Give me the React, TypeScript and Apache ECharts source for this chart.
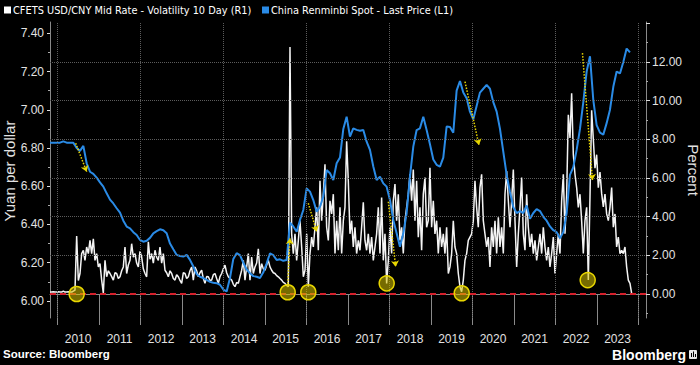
import React, { useEffect, useRef } from 'react';
import * as echarts from 'echarts';

const WHITE_NAME = 'CFETS USD/CNY Mid Rate - Volatility 10 Day (R1)';
const BLUE_NAME = 'China Renminbi Spot - Last Price (L1)';

// x axis in decimal years
const X_MIN = 2009.824;
const X_MAX = 2024.186;
const YEAR_EDGES = [2010, 2011, 2012, 2013, 2014, 2015, 2016, 2017, 2018, 2019, 2020, 2021, 2022, 2023, 2024];
const YEAR_LABELS = [2010, 2011, 2012, 2013, 2014, 2015, 2016, 2017, 2018, 2019, 2020, 2021, 2022, 2023];
const GRID_YEARS = [2010, 2012, 2014, 2016, 2018, 2020, 2022, 2024];

const LEFT_MIN = 5.911;
const LEFT_MAX = 7.459;
const LEFT_TICKS = [6.0, 6.2, 6.4, 6.6, 6.8, 7.0, 7.2, 7.4];
const LEFT_MINOR = [6.1, 6.3, 6.5, 6.7, 6.9, 7.1, 7.3];
const RIGHT_MIN = -1.24;
const RIGHT_MAX = 14.06;
const RIGHT_TICKS = [0, 2, 4, 6, 8, 10, 12, 14];
const RIGHT_LABELS = [0, 2, 4, 6, 8, 10, 12];
const RIGHT_MINOR = [-1, 1, 3, 5, 7, 9, 11, 13];
const GRID_PCT = [2, 4, 6, 8, 10, 12];

// Volatility (percent), roughly every two weeks
const VOL_STEP = 0.04016;
const VOL_STARTS = [2009.824, 2013.318, 2016.932, 2020.547];
const vol2009 = [0.1, 0.1, 0.12, 0.1, 0.1, 0.12, 0.1, 0.1, 0.15, 0.1, 0.1, 0.12, 0.1, 0.1, 0.15, 0.2, 3.0, 0.7, 1.06, 2.09, 2.26, 1.74, 2.43, 2.09, 2.77, 2.09, 2.85, 1.74, 2.09, 1.4, 1.57, 0.72, 0.05, 1.74, 0.89, 1.2, 1.06, 0.9, 0.72, 1.1, 1.06, 0.8, 0.89, 1.2, 1.4, 2.43, 1.06, 1.5, 1.74, 2.6, 1.9, 2.09, 1.6, 1.4, 2.2, 1.91, 1.3, 1.06, 0.89, 2.7, 1.8, 2.09, 1.6, 2.26, 1.9, 1.74, 2.43, 1.6, 2.09, 1.23, 1.1, 0.89, 1.2, 1.06, 0.8, 0.72, 1.0, 0.89, 0.7, 0.55, 1.1, 1.06, 0.8, 0.89, 1.2, 1.4, 0.72];
const vol2013 = [1.4, 1.2, 0.89, 1.1, 1.23, 0.8, 0.55, 0.9, 0.89, 0.7, 0.72, 1.0, 1.06, 0.8, 0.55, 0.9, 1.06, 1.3, 1.49, 1.1, 0.89, 0.8, 0.72, 0.5, 0.38, 0.6, 0.55, 0.9, 1.23, 1.74, 0.72, 1.4, 2.09, 0.72, 1.91, 1.06, 1.4, 1.6, 2.34, 1.06, 1.57, 1.3, 1.23, 1.5, 1.74, 1.4, 1.23, 1.1, 1.06, 0.95, 0.89, 0.8, 0.72, 0.6, 0.55, 0.45, 0.38, 12.77, 3.11, 2.09, 3.11, 1.74, 2.77, 3.79, 2.43, 0.89, 1.23, 3.11, 0.38, 2.09, 2.94, 2.43, 3.45, 4.48, 2.26, 5.85, 3.79, 5.16, 6.7, 3.45, 2.77, 4.82, 4.14, 5.16, 2.09, 3.79, 2.26, 4.48, 2.09, 3.79];
const vol2017 = [4.48, 7.9, 5.85, 3.11, 3.79, 2.43, 3.45, 2.09, 2.77, 2.26, 3.45, 4.74, 2.77, 2.26, 3.11, 2.09, 2.94, 1.74, 2.43, 3.11, 4.48, 2.09, 4.99, 1.74, 3.11, 0.55, 1.74, 3.45, 2.09, 4.82, 5.68, 3.79, 5.16, 2.77, 3.45, 2.09, 3.79, 4.48, 5.16, 6.19, 4.82, 6.44, 3.79, 5.85, 2.94, 4.48, 2.26, 5.16, 6.02, 3.45, 3.79, 6.53, 3.45, 4.82, 3.11, 3.79, 2.09, 3.45, 2.43, 3.11, 2.09, 3.45, 1.06, 1.4, 2.09, 3.79, 2.43, 2.09, 1.06, 0.38, 0.12, 0.72, 1.74, 2.09, 2.77, 2.94, 3.11, 3.79, 5.85, 4.48, 3.45, 5.5, 6.19, 3.79, 3.11, 2.43, 2.94, 1.4, 3.45, 2.43];
const vol2020 = [3.79, 2.09, 3.97, 2.43, 3.45, 2.09, 5.16, 6.36, 4.82, 3.45, 4.82, 6.44, 3.79, 1.4, 3.11, 4.48, 6.02, 3.11, 2.26, 5.16, 3.45, 2.43, 3.11, 2.09, 2.77, 1.74, 2.43, 3.11, 2.09, 3.45, 2.43, 1.74, 2.43, 1.4, 2.09, 2.94, 1.06, 2.09, 3.11, 2.09, 4.82, 6.19, 3.11, 5.16, 9.26, 8.07, 10.38, 7.21, 6.19, 5.5, 4.48, 5.16, 3.79, 2.09, 3.79, 4.48, 0.72, 5.0, 9.5, 8.0, 6.5, 7.2, 5.5, 6.3, 5.2, 4.5, 5.16, 4.14, 3.79, 4.48, 5.5, 3.45, 4.14, 2.43, 2.94, 2.09, 2.26, 2.09, 2.43, 1.4, 0.72, 0.55, 0.03];

// Spot (yuan per dollar), roughly monthly
const SPOT_STEP = 0.08032;
const SPOT_STARTS = [2009.824, 2013.358, 2016.972, 2020.587];
const spot2009 = [6.828, 6.828, 6.828, 6.828, 6.835, 6.828, 6.828, 6.828, 6.8, 6.785, 6.811, 6.72, 6.676, 6.665, 6.645, 6.62, 6.598, 6.563, 6.53, 6.51, 6.485, 6.462, 6.42, 6.389, 6.38, 6.36, 6.345, 6.319, 6.31, 6.315, 6.33, 6.354, 6.365, 6.375, 6.37, 6.354, 6.3, 6.27, 6.241, 6.235, 6.232, 6.241, 6.215, 6.18];
const spot2013 = [6.14, 6.127, 6.12, 6.11, 6.1, 6.095, 6.093, 6.085, 6.06, 6.05, 6.12, 6.22, 6.25, 6.24, 6.2, 6.165, 6.145, 6.13, 6.127, 6.12, 6.15, 6.197, 6.249, 6.24, 6.214, 6.218, 6.21, 6.214, 6.41, 6.39, 6.362, 6.424, 6.476, 6.589, 6.572, 6.528, 6.467, 6.493, 6.546, 6.685, 6.668, 6.633, 6.72, 6.75, 6.9];
const spot2017 = [6.964, 6.86, 6.903, 6.895, 6.89, 6.894, 6.833, 6.79, 6.703, 6.633, 6.65, 6.615, 6.598, 6.528, 6.424, 6.354, 6.284, 6.354, 6.459, 6.65, 6.807, 6.894, 6.903, 6.964, 6.894, 6.82, 6.74, 6.712, 6.703, 6.75, 6.912, 6.91, 6.88, 7.1, 7.15, 7.09, 7.06, 6.99, 6.95, 7.02, 7.09, 7.11, 7.13, 7.11, 7.04];
const spot2020 = [6.99, 6.9, 6.78, 6.66, 6.57, 6.49, 6.46, 6.47, 6.46, 6.5, 6.43, 6.46, 6.48, 6.47, 6.44, 6.42, 6.39, 6.37, 6.36, 6.328, 6.36, 6.46, 6.66, 6.7, 6.79, 6.9, 7.04, 7.2, 7.28, 7.05, 6.92, 6.88, 6.87, 6.93, 7.0, 7.12, 7.2, 7.19, 7.25, 7.32, 7.3];

// Highlighted volatility lows (yellow circles)
const CIRCLE_DATES = [2010.467, 2015.552, 2016.048, 2017.937, 2019.745, 2022.781];
const CIRCLE_VALUES = [0.0, 0.09, 0.09, 0.55, 0.04, 0.72];

// Dotted arrows, in (year, yuan) units: [fromX, fromY, toX, toY]
const ARROWS = [
  [2010.443, 6.825, 2010.708, 6.676],
  [2015.552, 6.075, 2015.607, 6.328],
  [2016.048, 6.511, 2016.251, 6.362],
  [2017.976, 6.519, 2018.154, 6.179],
  [2019.824, 7.147, 2020.161, 6.816],
  [2022.655, 7.296, 2022.896, 6.633],
];

function build(starts: number[], step: number, chunks: number[][]) {
  const out: number[][] = [];
  chunks.forEach((c, k) => c.forEach((v, i) => out.push([starts[k] + i * step, v])));
  return out;
}

const FONT = '"Liberation Sans", Arial, sans-serif';
const LEGEND_FONT = '"DejaVu Sans", sans-serif';
const AXIS_COLOR = '#8a8a8a';
const LABEL_COLOR = '#e2e2e2';

export default function App() {
  const ref = useRef<HTMLDivElement>(null);
  useEffect(() => {
    const chart = echarts.init(ref.current!, null, { renderer: 'svg' });
    const volData = build(VOL_STARTS, VOL_STEP, [vol2009, vol2013, vol2017, vol2020]);
    const spotData = build(SPOT_STARTS, SPOT_STEP, [spot2009, spot2013, spot2017, spot2020]);
    const gridLine = { color: '#5c5c5c', type: 'dotted', width: 1 };
    const option: any = {
      animation: false,
      backgroundColor: '#000',
      textStyle: { fontFamily: FONT },
      grid: { left: 50, right: 54, top: 22, bottom: 47 },
      xAxis: {
        type: 'value',
        min: X_MIN,
        max: X_MAX,
        splitLine: { show: false },
        axisLine: { show: true, lineStyle: { color: AXIS_COLOR } },
        axisTick: { show: true, customValues: YEAR_EDGES, length: 31, lineStyle: { color: AXIS_COLOR } },
        axisLabel: {
          customValues: YEAR_LABELS.map((y) => y + 0.5),
          formatter: (v: number) => String(Math.floor(v)),
          color: LABEL_COLOR,
          fontSize: 12,
          margin: 15,
        },
      },
      yAxis: [
        {
          type: 'value', position: 'left', min: LEFT_MIN, max: LEFT_MAX,
          splitLine: { show: false },
          axisLine: { show: true, lineStyle: { color: AXIS_COLOR } },
          axisTick: { show: true, customValues: LEFT_TICKS, length: 3, lineStyle: { color: '#ddd' } },
          axisLabel: { customValues: LEFT_TICKS, formatter: (v: number) => v.toFixed(2), color: LABEL_COLOR, fontSize: 12, margin: 6 },
        },
        {
          type: 'value', position: 'right', min: RIGHT_MIN, max: RIGHT_MAX,
          splitLine: { show: false },
          axisLine: { show: true, lineStyle: { color: AXIS_COLOR } },
          axisTick: { show: true, customValues: RIGHT_TICKS, length: 4, lineStyle: { color: '#ddd' } },
          axisLabel: { customValues: RIGHT_LABELS, formatter: (v: number) => v.toFixed(2), color: LABEL_COLOR, fontSize: 12, margin: 6 },
        },
        {
          type: 'value', position: 'left', min: LEFT_MIN, max: LEFT_MAX,
          splitLine: { show: false }, axisLine: { show: false }, axisLabel: { show: false },
          axisTick: { show: true, customValues: LEFT_MINOR, length: 2, lineStyle: { color: '#aaa' } },
        },
        {
          type: 'value', position: 'right', min: RIGHT_MIN, max: RIGHT_MAX,
          splitLine: { show: false }, axisLine: { show: false }, axisLabel: { show: false },
          axisTick: { show: true, customValues: RIGHT_MINOR, length: 2, lineStyle: { color: '#aaa' } },
        },
      ],
      series: [
        {
          type: 'line', yAxisIndex: 1, data: [], z: 1, silent: true,
          markLine: {
            silent: true, symbol: ['none', 'none'], label: { show: false },
            lineStyle: gridLine,
            data: [...GRID_PCT.map((v) => ({ yAxis: v })), ...GRID_YEARS.map((v) => ({ xAxis: v }))],
          },
        },
        {
          name: WHITE_NAME, type: 'line', yAxisIndex: 1, data: volData, z: 3,
          showSymbol: false, symbol: 'none',
          lineStyle: { color: '#f4f4f4', width: 1.5 }, itemStyle: { color: '#fff' },
        },
        {
          name: BLUE_NAME, type: 'line', yAxisIndex: 0, data: spotData, z: 4,
          showSymbol: false, symbol: 'none',
          lineStyle: { color: '#2a8be6', width: 2 }, itemStyle: { color: '#2a8be6' },
        },
        {
          type: 'line', yAxisIndex: 1, data: [], z: 5, silent: true,
          markLine: {
            silent: true, symbol: ['none', 'none'], label: { show: false },
            lineStyle: { color: '#d5202c', type: [6, 4], width: 2 },
            data: [{ yAxis: 0 }],
          },
        },
        {
          type: 'scatter', yAxisIndex: 1, z: 6, silent: true,
          data: CIRCLE_DATES.map((d, i) => [d, CIRCLE_VALUES[i]]),
          symbolSize: 15,
          itemStyle: { color: 'rgba(215,195,0,0.55)', borderColor: '#e8d600', borderWidth: 1.5, opacity: 1 },
        },
        {
          type: 'line', yAxisIndex: 0, data: [], z: 7, silent: true,
          markLine: {
            silent: true, symbol: ['none', 'arrow'], symbolSize: 6, label: { show: false },
            lineStyle: { color: '#e8d600', type: 'dotted', width: 1.5 },
            itemStyle: { color: '#e8d600' },
            data: ARROWS.map((a) => [{ coord: [a[0], a[1]] }, { coord: [a[2], a[3]] }]),
          },
        },
      ],
      graphic: [
        { type: 'rect', shape: { x: 4, y: 6.5, width: 7, height: 7 }, style: { fill: '#fff' } },
        { type: 'text', x: 13, y: 10, style: { text: WHITE_NAME, fill: '#fff', font: `9.8px ${LEGEND_FONT}`, textVerticalAlign: 'middle' } },
        { type: 'rect', shape: { x: 262, y: 6.5, width: 7, height: 7 }, style: { fill: '#2a8be6' } },
        { type: 'text', x: 271, y: 10, style: { text: BLUE_NAME, fill: '#fff', font: `9.8px ${LEGEND_FONT}`, textVerticalAlign: 'middle' } },
        { type: 'text', x: 9, y: 171, rotation: Math.PI / 2, style: { text: 'Yuan per dollar', fill: LABEL_COLOR, font: `15px ${FONT}`, textAlign: 'center', textVerticalAlign: 'middle' } },
        { type: 'text', x: 693, y: 170, rotation: -Math.PI / 2, style: { text: 'Percent', fill: LABEL_COLOR, font: `15px ${FONT}`, textAlign: 'center', textVerticalAlign: 'middle' } },
        { type: 'text', x: 3, y: 354, style: { text: 'Source: Bloomberg', fill: '#fff', font: `bold 11.5px ${FONT}`, textVerticalAlign: 'middle' } },
        { type: 'text', x: 686, y: 355, style: { text: 'Bloomberg', fill: '#fff', font: `bold 14px ${FONT}`, textAlign: 'right', textVerticalAlign: 'middle' } },
        { type: 'rect', shape: { x: 689, y: 350, width: 8, height: 9, r: 1 }, style: { fill: '#e8e8e8' } },
        { type: 'rect', shape: { x: 691, y: 353, width: 1, height: 4 }, style: { fill: '#000' } },
        { type: 'rect', shape: { x: 693, y: 351.5, width: 1, height: 5.5 }, style: { fill: '#000' } },
        { type: 'rect', shape: { x: 695, y: 354, width: 1, height: 3 }, style: { fill: '#000' } },
      ],
    };
    chart.setOption(option);
    return () => chart.dispose();
  }, []);
  return (
    <div
      ref={ref}
      style={{ position: 'fixed', left: 0, top: 0, width: 700, height: 365, background: '#000' }}
    />
  );
}
